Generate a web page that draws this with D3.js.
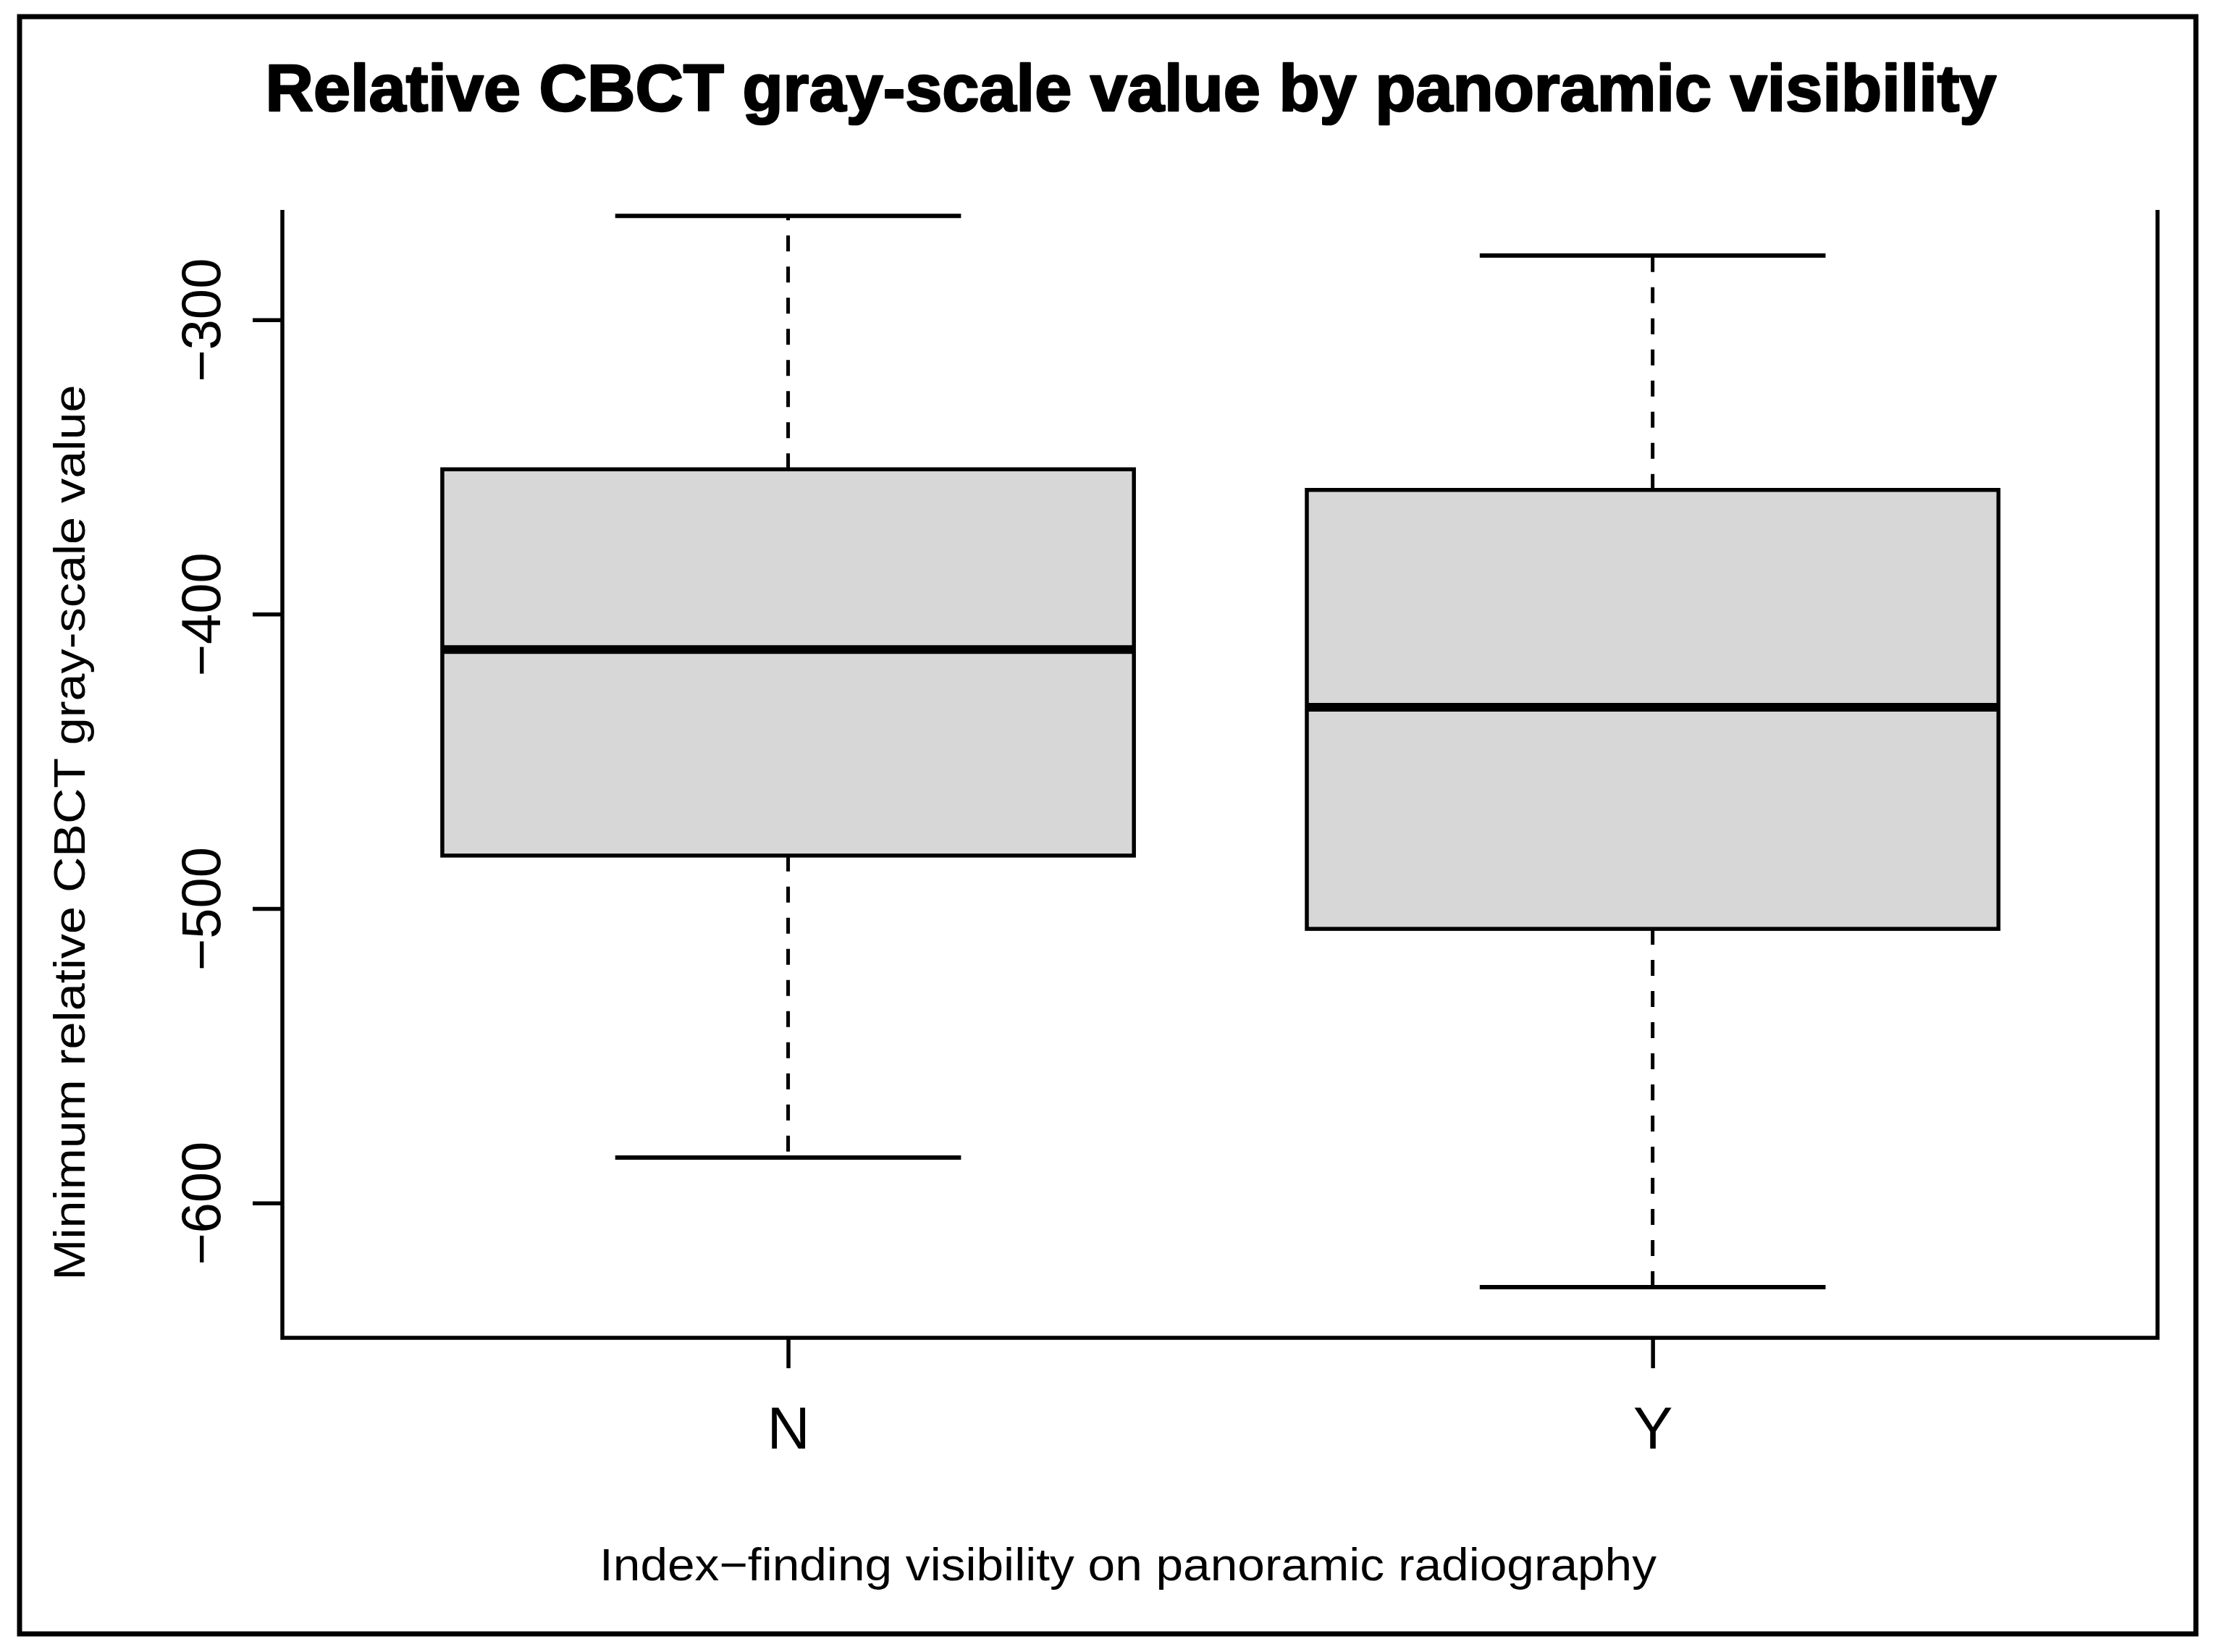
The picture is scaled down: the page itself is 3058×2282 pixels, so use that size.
<!DOCTYPE html>
<html>
<head>
<meta charset="utf-8">
<script src="https://cdn.jsdelivr.net/npm/d3@7"></script>
<style>
html,body{margin:0;padding:0;background:#fff;}
svg{display:block;}
text{font-family:"Liberation Sans",Arial,Helvetica,sans-serif;fill:#000;}
</style>
</head>
<body>
<script>
// ---- data ----
const categories = ["N", "Y"];
const whiskerLow  = [-584.6, -628.6];
const q1          = [-482.0, -506.9];
const medians     = [-412.0, -431.6];
const q3          = [-350.8, -357.8];
const whiskerHigh = [-264.7, -278.2];
const yTicks = [-300, -400, -500, -600];
const titleText = "Relative CBCT gray-scale value by panoramic visibility";
const xLabelText = "Index\u2212finding visibility on panoramic radiography";
const yLabelText = "Minimum relative CBCT gray-scale value";

const W = 3058, H = 2282;
const plot = {left: 390, right: 2980, top: 290, bottom: 1848};

const svg = d3.select("body").append("svg").attr("width", W).attr("height", H);
svg.append("rect").attr("width", W).attr("height", H).attr("fill", "#fff");

// outer frame
svg.append("rect").attr("x", 27).attr("y", 23).attr("width", 3006).attr("height", 2234)
  .attr("fill", "none").attr("stroke", "#000").attr("stroke-width", 7);

const x = d3.scaleLinear().domain([0.415, categories.length + 0.584]).range([plot.left, plot.right]);
const y = d3.scaleLinear().domain([-645.8, -262.7]).range([plot.bottom, plot.top]);

const boxes = categories.map((c, i) => ({
  cat: c, pos: i + 1, lo: whiskerLow[i], q1: q1[i], med: medians[i], q3: q3[i], hi: whiskerHigh[i]
}));

const boxHalf = 0.4, capHalf = 0.2;
const g = svg.append("g");

// whiskers (dashed)
g.selectAll(".wlo").data(boxes).join("line")
  .attr("x1", d => x(d.pos)).attr("x2", d => x(d.pos))
  .attr("y1", d => y(d.q1)).attr("y2", d => y(d.lo))
  .attr("stroke", "#000").attr("stroke-width", 5).attr("stroke-dasharray", "22,21");
g.selectAll(".whi").data(boxes).join("line")
  .attr("x1", d => x(d.pos)).attr("x2", d => x(d.pos))
  .attr("y1", d => y(d.q3)).attr("y2", d => y(d.hi))
  .attr("stroke", "#000").attr("stroke-width", 5).attr("stroke-dasharray", "22,21");
// caps
g.selectAll(".caplo").data(boxes).join("line")
  .attr("x1", d => x(d.pos - capHalf)).attr("x2", d => x(d.pos + capHalf))
  .attr("y1", d => y(d.lo)).attr("y2", d => y(d.lo))
  .attr("stroke", "#000").attr("stroke-width", 6);
g.selectAll(".caphi").data(boxes).join("line")
  .attr("x1", d => x(d.pos - capHalf)).attr("x2", d => x(d.pos + capHalf))
  .attr("y1", d => y(d.hi)).attr("y2", d => y(d.hi))
  .attr("stroke", "#000").attr("stroke-width", 6);
// boxes
g.selectAll(".box").data(boxes).join("rect")
  .attr("x", d => x(d.pos - boxHalf)).attr("width", d => x(d.pos + boxHalf) - x(d.pos - boxHalf))
  .attr("y", d => y(d.q3)).attr("height", d => y(d.q1) - y(d.q3))
  .attr("fill", "#d7d7d7").attr("stroke", "#000").attr("stroke-width", 5.5);
// medians
g.selectAll(".med").data(boxes).join("line")
  .attr("x1", d => x(d.pos - boxHalf)).attr("x2", d => x(d.pos + boxHalf))
  .attr("y1", d => y(d.med)).attr("y2", d => y(d.med))
  .attr("stroke", "#000").attr("stroke-width", 12);

// plot box (open top)
svg.append("path")
  .attr("d", `M${plot.left},${plot.top}V${plot.bottom}H${plot.right}V${plot.top}`)
  .attr("fill", "none").attr("stroke", "#000").attr("stroke-width", 5.5);

// y axis
const yAxis = svg.append("g").attr("transform", `translate(${plot.left},0)`)
  .call(d3.axisLeft(y).tickValues(yTicks).tickSize(41).tickFormat(d3.format("d")));
yAxis.select(".domain").remove();
yAxis.selectAll(".tick line").attr("stroke", "#000").attr("stroke-width", 5.5);
yAxis.selectAll(".tick text")
  .attr("x", null).attr("dy", null)
  .attr("transform", "translate(-113,0) rotate(-90)")
  .attr("text-anchor", "middle").attr("dominant-baseline", "central")
  .attr("font-size", 76).attr("font-family", "Liberation Sans, Arial, sans-serif").attr("fill", "#000");

// x axis
const xAxis = svg.append("g").attr("transform", `translate(0,${plot.bottom})`)
  .call(d3.axisBottom(x).tickValues(categories.map((c, i) => i + 1)).tickSize(42)
    .tickFormat(d => categories[d - 1]));
xAxis.select(".domain").remove();
xAxis.selectAll(".tick line").attr("stroke", "#000").attr("stroke-width", 5.5);
xAxis.selectAll(".tick text")
  .attr("y", 124).attr("dy", null).attr("dominant-baseline", "central")
  .attr("font-size", 82).attr("font-family", "Liberation Sans, Arial, sans-serif").attr("fill", "#000");

// title
svg.append("text").attr("x", 1562).attr("y", 153).attr("text-anchor", "middle")
  .attr("font-size", 90).attr("font-weight", "bold")
  .attr("stroke", "#000").attr("stroke-width", 2.5).attr("stroke-linejoin", "round")
  .attr("textLength", 2391).attr("lengthAdjust", "spacingAndGlyphs")
  .text(titleText);

// x label
svg.append("text").attr("x", 1558).attr("y", 2183).attr("text-anchor", "middle")
  .attr("font-size", 63)
  .attr("textLength", 1460).attr("lengthAdjust", "spacingAndGlyphs")
  .text(xLabelText);

// y label
svg.append("text").attr("transform", "translate(117,1150) rotate(-90)")
  .attr("text-anchor", "middle").attr("font-size", 62)
  .attr("textLength", 1237).attr("lengthAdjust", "spacingAndGlyphs")
  .text(yLabelText);
</script>
</body>
</html>
